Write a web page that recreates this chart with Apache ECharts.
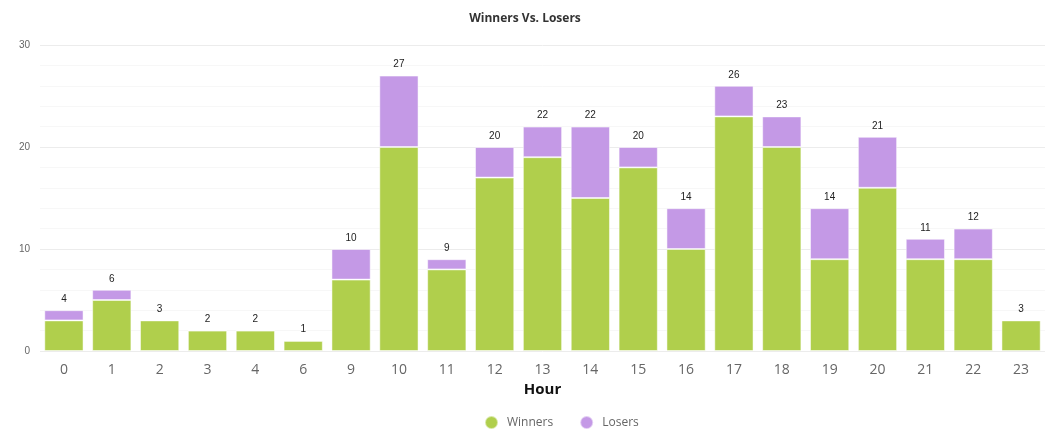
<!DOCTYPE html>
<html>
<head>
<meta charset="utf-8">
<script src="https://cdn.jsdelivr.net/npm/echarts@6/dist/echarts.min.js"></script>
<style>
  html, body { margin: 0; padding: 0; background: #fff; }
  #main { width: 1050px; height: 443px; }
</style>
</head>
<body>
<div id="main"></div>
<script>
// Chart data
const hours = ['0', '1', '2', '3', '4', '6', '9', '10', '11', '12', '13', '14', '15', '16', '17', '18', '19', '20', '21', '22', '23'];
const winners = [3, 5, 3, 2, 2, 1, 7, 20, 8, 17, 19, 15, 18, 10, 23, 20, 9, 16, 9, 9, 3];
const losers = [1, 1, 0, 0, 0, 0, 3, 7, 1, 3, 3, 7, 2, 4, 3, 3, 5, 5, 2, 3, 0];
const yTicks = [0, 10, 20, 30];

const totals = winners.map((w, i) => w + losers[i]);

const chart = echarts.init(document.getElementById('main'));

chart.setOption({
    animation: false,
    title: {
        text: 'Winners Vs. Losers',
        left: 'center',
        top: 8,
        textStyle: { fontSize: 12, fontWeight: 'bold', color: '#333', fontFamily: 'Open Sans' }
    },
    legend: {
        bottom: 8,
        left: 479,
        icon: 'circle',
        itemWidth: 13,
        itemHeight: 13,
        itemGap: 26,
        textStyle: { fontSize: 12, color: '#666', fontFamily: 'Open Sans', padding: [0, 0, 0, 4] },
        data: ['Winners', 'Losers']
    },
    grid: { left: 40, right: 5, top: 45, bottom: 92 },
    xAxis: {
        type: 'category',
        data: hours,
        name: 'Hour',
        nameLocation: 'middle',
        nameGap: 28,
        nameTextStyle: { fontSize: 15, fontWeight: 'bold', color: '#111', fontFamily: 'Open Sans' },
        axisLine: { show: false },
        axisTick: { show: false },
        axisLabel: { fontSize: 14, color: '#666', margin: 12, fontFamily: 'Open Sans' }
    },
    yAxis: {
        type: 'value',
        min: yTicks[0],
        max: yTicks[yTicks.length - 1],
        interval: 10,
        axisLine: { show: false },
        axisTick: { show: false },
        axisLabel: { fontSize: 10, color: '#666', margin: 10 },
        splitLine: { lineStyle: { color: '#ececec' } },
        minorTick: { show: false, splitNumber: 5 },
        minorSplitLine: { show: true, lineStyle: { color: '#f7f7f7' } }
    },
    series: [
        {
            name: 'Winners',
            type: 'bar',
            stack: 'total',
            data: winners,
            barCategoryGap: '18%',
            itemStyle: { color: '#b0cf4c', borderColor: 'rgba(255,255,255,0.5)', borderWidth: 1 }
        },
        {
            name: 'Losers',
            type: 'bar',
            stack: 'total',
            data: losers,
            itemStyle: { color: '#c499e6', borderColor: 'rgba(255,255,255,0.5)', borderWidth: 1 },
            label: {
                show: true,
                position: 'top',
                distance: 6,
                fontSize: 10,
                color: '#222',
                formatter: p => totals[p.dataIndex]
            }
        }
    ]
});
</script>
</body>
</html>
